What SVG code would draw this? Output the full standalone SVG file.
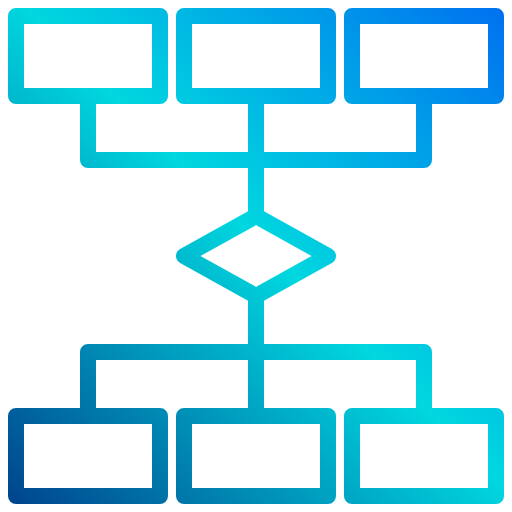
<svg xmlns="http://www.w3.org/2000/svg" width="512" height="512" viewBox="0 0 512 512">
<defs>
<linearGradient id="g" gradientUnits="userSpaceOnUse" x1="0" y1="512" x2="512" y2="0">
<stop offset="0" stop-color="#003f8a"/>
<stop offset="0.518" stop-color="#00d7df"/>
<stop offset="1" stop-color="#006df0"/>
</linearGradient>
<style>
.s{fill:none;stroke:url(#g);stroke-width:16;stroke-linejoin:round;}
</style>
</defs>
<rect width="512" height="512" fill="#ffffff"/>
<g id="connectors">
<polyline class="s" points="88,104 88,160 424,160 424,104"/>
<line class="s" x1="256" y1="104" x2="256" y2="216"/>
<line class="s" x1="256" y1="296" x2="256" y2="408"/>
<polyline class="s" points="88,408 88,352 424,352 424,408"/>
</g>
<g id="box-top-left"><rect class="s" x="16" y="16" width="144" height="80"/></g>
<g id="box-top-center"><rect class="s" x="184" y="16" width="144" height="80"/></g>
<g id="box-top-right"><rect class="s" x="352" y="16" width="144" height="80"/></g>
<g id="decision"><path class="s" d="M184 256 L256 216 L328 256 L256 296 Z"/></g>
<g id="box-bottom-left"><rect class="s" x="16" y="416" width="144" height="80"/></g>
<g id="box-bottom-center"><rect class="s" x="184" y="416" width="144" height="80"/></g>
<g id="box-bottom-right"><rect class="s" x="352" y="416" width="144" height="80"/></g>
</svg>
